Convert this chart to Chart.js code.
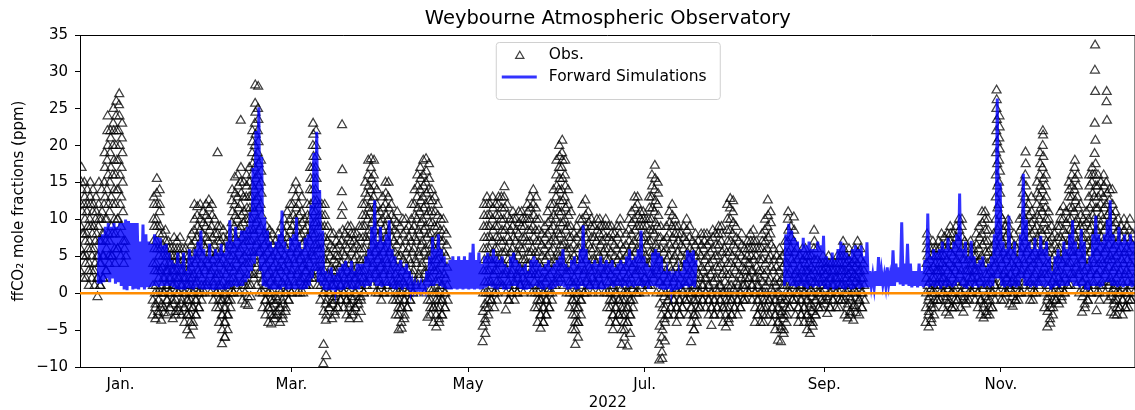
<!DOCTYPE html>
<html><head><meta charset="utf-8">
<script src="https://cdn.jsdelivr.net/npm/chart.js@4.4.1/dist/chart.umd.min.js"></script>
<style>html,body{margin:0;padding:0;overflow:hidden;background:#fff;width:1135px;height:410px}canvas{display:block}</style>
</head><body><canvas id="c" width="1142" height="410"></canvas>
<script>
const chartTitle = 'Weybourne Atmospheric Observatory';
const yLabel = 'ffCO\u2082 mole fractions (ppm)';
const xLabel = '2022';
const monthTickDays = [0, 59, 120, 181, 243, 304];
const monthTickLabels = ['Jan.', 'Mar.', 'May', 'Jul.', 'Sep.', 'Nov.'];
const xMin = -14, xMax = 350.5;
const yMin = -10, yMax = 35, yStep = 5;
const zeroLevel = 0;
const legendLabels = ['Obs.', 'Forward Simulations'];

// observations, one string per day (day 0 = 1 Jan 2022), starting obsStart
const obsStart = -14;
const obsDays = [
"3 5 6 8 9 11 12 14 15 17","2 4 5 7 8 10 12 13 15","2 3 5 6 8 9 11 12 14","1 3 4 6 7 9 10 12 13 15","2 3 5 6 8 9 11 12 14","1 2 4 5 7 8 10 11 13","-0.5 1 2 4 5 7 9 10 12 15","1 2 4 5 7 8 10 11 14","2 3 5 7 8 10 12 13 15 17 19","3 5 6 8 10 12 14 16 18 20 22 24",
"4 5 7 9 11 13 15 17 19 21 22","5 6 8 10 12 14 16 18 20 22 23 25","4 6 8 10 12 14 16 18 20 22 24 26","6 8 10 12 14 16 18 20 22 24 25.5 27","5 7 9 11 13 15 17 19 21 23","4 5 6 7","","","","",
"","","","","","-3 -2 -1 0 1 3 4 6 7 9 10 12 13","-3.5 -2.5 -1.5 0 1 3 4 6 7 9 10 12 13.5 15.5","-3 -2 -1 0 2 3 5 6 8 9 11 12 14","-3.7 -2.7 -1.5 0 1 2 3.5 5 6.5 8","-2 -1 0 1 2 3 4 5 6 7 8.5",
"-3 -2 -1 0 1 2 3 4 5 6 7","-2 -1 0 1 2 3 4 5 6","-3.5 -2.5 -1.5 0 1 2 3 4 5 6 7.5","-3 -2 -1 0 1 2 3 4 5 6 7","-2.5 -1.5 0 1 2 3 4 5 6 7.5","-3 -2 -1 0 1 2 3 4.5 6","-4 -3 -2 -1 0 1 2 3 4 5 6","-5 -4 -3 -2 -1 0 1 2 3 4 5 7","-5.7 -4.5 -3 -2 -1 0 1 2 3.5 5 6.5 8","-4 -3 -2 -1 0 1 2.5 4 5.5 7 8.5 10 12",
"-3 -2 -1 0 1.5 3 4.5 6 7.5 9 10.5 11.7","-2 -1 0 1 2.5 4 5.5 7 8.5 10 12","0 1 2 3.5 5 6.5 8 9.5 11","0 1.5 3 4.5 6 7.5 9 10.5 12","1 2.5 4 5.5 7 8.5 10 11.5 12.6","0 1.5 3 4.5 6 7.5 9 10.5 12","-1 0 1 2 3.5 5 6.5 8 10","-2 -1 0 1 2.5 4 5.5 7 8 9 19","-4 -3 -2 -1 0 1 2.5 4 5.5 7 9","-6.9 -6 -5 -4 -3 -2 -1 0 1.5 3 4.5 6 7.5 8.5",
"-6 -5 -4 -3 -2 -1 0 1 2.5 4 5.5 7","-3 -2 -1 0 1 2 3.5 5 6.5 8","-1 0 1 2 3.5 5 6.5 8 9.5 11 12.5 14","0 1.5 3 4.5 6 7.5 9 10.5 12 13.5 15.7","1 2.5 4 5.5 7 8.5 10 11.5 13 14.5 16","0 1.5 3 4.5 6 7.5 9 10.5 12 13.5 15 17 23.4","-1 0 1 2 3.5 5 6.5 8 9.5 11 13 15","-1.5 -0.5 1 2.5 4 5.5 7 8.5 10 11.5 13 14.5 16","-1.7 -0.5 1 2.5 4 5.5 7 8.5 10 11.5 13 15 17","1 2.5 4 5.5 7 8.5 10 11.5 13 14.5 16 17.5 19 20.5 22",
"2 3.5 5 6.5 8 9.5 11 12.5 14 15.5 17 18.5 20 21.5 23 24.5 25.7 28.2","1 2.5 4 5.5 7 8.5 10 11.5 13 14.5 16 17.5 19 20.5 22 23.5 25 28","0 1.5 3 4.5 6 7.5 9 10.5 12 13.5 15 16.5 18","-2 -1 0 1 2 3.5 5 6.5 8","-3 -2 -1 0 1 2.5 4 5.5 7 8 9","-4 -3 -2 -1 0 1.5 3 4.5 6 7 8.5","-4.2 -3 -2 -1 0 1 2 3.5 5 6.5 8","-3.5 -2.5 -1.5 -0.5 1 2.5 4 5.5 7","-3 -2 -1 0.5 2 3.5 5 6.5 8","-4 -3 -2 -1 0 1.5 3 4.5 6 7.5 9",
"-3.5 -2.5 -1.5 0 1 2 3.5 5 6.5 8 10","-2 -1 0 1.5 3 4.5 6 7.5 9 11","-1 0 1 2.5 4 5.5 7 8.5 10 12","0 1.5 3 4.5 6 7.5 9 10.5 12 14","1 2.5 4 5.5 7 8.5 10 11.5 13 15","0 1.5 3 4.5 6 7.5 9 10.5 12 14","0 1 2 3.5 5 6.5 8 9.5 11 13","0 1 2 3 4 5.5 7 8.5 10","1 2 3 4.5 6 7.5 9 10.5 12","1 2.5 4 5.5 7 8.5 10 12 14 15.5 17",
"2 3.5 5 6.5 8 9.5 11 12.5 14 15.5 17 18.5 20 21.5 23","2 3.5 5 6.5 8 9.5 11 12.5 14 15.5 17 18.5 20 22","1 2 3 4.5 6 7.5 9 10.5 12","-1 0 1 2 3 4.5 6 7.5 9 10.5 12","-9.6 -8.5 -7 -3.7 -2.5 -1.5 0 1.5 3 4.5 6 7.5 9 10.5 12","-3 -2 -1 0 1 2.5 4 5.5 7 9","-2 -1 0 1 2 3.5 5 6.5 8","-3.5 -2.5 -1.5 -0.5 1 2 3 4.5 6 8","-3 -2 -1 0 1 2 3 4 5 6 7","-2 -1 0 1 2 3.5 5 6.5 8",
"-1 0 1 2.5 4 5.5 7 8.5 10.5 11.7 13.7 16.7 22.8","-2 -1 0 1 2 3.5 5 6.5 8","-3 -2 -1 0 1 2 3 4.5 6 7.5 9","-3.5 -2.5 -1.5 -0.5 1 2.5 4 5.5 7 8 9","-3 -2 -1 0 1 2 3 4.5 6 7 8","-2 -1 0 1 2 3.5 5 6.5 8","-3.5 -2.5 -1.5 -0.5 1 2 3 4.5 6 7.5 9","-1 0 1 2 3 4.5 6 7.5 9 10.5 12","0 1.5 3 4.5 6 7.5 9 10.5 12 13.5 15","1 2.5 4 5.5 7 8.5 10 11.5 13 14.5 16 18",
"2 3.5 5 6.5 8 9.5 11 12.5 14 15.5 17 18.2","1 2.5 4 5.5 7 8.5 10 11.5 13 14.5 16 18","0 1.5 3 4.5 6 7.5 9 10.5 12 14","0 1 2 3.5 5 6.5 8 9.5 11","-1 0 1 2.5 4 5.5 7 8.5 10 11.5 13","0 1.5 3 4.5 6 7.5 9 10.5 12 13.5 15","1 2.5 4 5.5 7 8.5 10 11.5 13 15","0 1.5 3 4.5 6 7.5 9 10.5 12","-1 0 1 2.5 4 5.5 7 8.5 10","-3 -2 -1 0 1 2 3.5 5 6.5 8 9.5 11",
"-5 -4 -3 -2 -1 0 1 2 3.5 5 7 9","-4.8 -3.5 -2 -1 0 1.5 3 4.5 6 8 10","-3 -2 -1 0 1 2.5 4 5.5 7 8.5 10","-2 -1 0 1.5 3 4.5 6 7.5 9","-1 0 1 2.5 4 5.5 7 8.5 10 12","0 1.5 3 4.5 6 7.5 9 10.5 12 14","1 2.5 4 5.5 7 8.5 10 11.5 13 14.5 16","2 3.5 5 6.5 8 9.5 11 12.5 14 15.5 17","1 2.5 4 5.5 7 8.5 10 11.5 13 14.5 16 18","0 1.5 3 4.5 6 7.5 9 10.5 12 13.5 15 16.5 18.2",
"-3.3 -2 -1 0.5 2 3.5 5 6.5 8 9.5 11 12.5 14 15.5 17.5","-3 -2 -1 0.5 2 3.5 5 6.5 8 9.5 11 12.5 14","-4 -3 -2 -1 0 1.5 3 4.5 6 7.5 9 11 13","-4.6 -3.5 -2 -1 0 1.5 3 4.5 6 7.5 9 10.5 12","-4 -3 -2 -1 0 1 2.5 4 5.5 7 8.5 10","-3 -2 -1 0 1 2.5 4 5.5 7 8.5 10","-2 -1 0 1 2 3.5 5 6.5 8","","","",
"","","","","","","","","","-6.6 -5.5 -4.5 -3.5 -2.5 -1.5 0 1.5 3 4.5 6 7.5 9 10.5 12",
"-4 -3 -2 -1 0 1.5 3 4.5 6 7.5 9 10.5 12 13","-2 -1 0 1.5 3 4.5 6 7.5 9 10.5 12","-1 0 1 2.5 4 5.5 7 8.5 10 11.5 13","-2 -1 0 1.5 3 4.5 6 7.5 9 10.5 12","0 1.5 3 4.5 6 7.5 9 10.5 12 13","1 2.5 4 5.5 7 8.5 10 11.5 13","1 2.5 4 5.5 7 8.5 10 11.5 13 14.4","-2.3 -1 0 1.5 3 4.5 6 7.5 9 10.5 12","-1 0 1 2.5 4 5.5 7 8.5 10","0 1.5 3 4.5 6 7.5 9 10 11",
"-1 0 1 2.5 4 5.5 7 8.5 10","0 1 2 3.5 5 6.5 8 9.5 11","1 2 3 4.5 6 7.5 9 10 11","0 1.5 3 4.5 6 7.5 9 10","1 2.5 4 5.5 7 8.5 10 11 12","1 2.5 4 5.5 7 8.5 10 11.5 13","0 1.5 3 4.5 6 7.5 9 10.5 12 14","-2 -1 0 1 2.5 4 5.5 7 8.5 10 11.5 13","-4 -3 -2 -1 0 1 2.5 4 5.5 7 8.5 10","-4.8 -4 -3 -2 -1 0 1 2 3.5 5 6.5 8",
"-4 -3 -2 -1 0 1.5 3 4.5 6 7.5 9","-3 -2 -1 0.5 2 3.5 5 6.5 8 9.5 11","-2 -1 0 1 2.5 4 5.5 7 8.5 10 12","0 1.5 3 4.5 6 7.5 9 10.5 12 14","1 2.5 4 5.5 7 8.5 10 11.5 13 14.5 16 18","2 3.5 5 6.5 8 9.5 11 12.5 14 15.5 17 18.5 20","2 3.5 5 6.5 8 9.5 11 12.5 14 15.5 17 18 19 20.7","1 2.5 4 5.5 7 8.5 10 11.5 13 14.5 16 18","0 1.5 3 4.5 6 7.5 9 10.5 12 14","-2 -1 0 1.5 3 4.5 6 7.5 9 11",
"-5 -4 -3 -2 -1 0 1 2 3.5 5 6.5 8","-7 -6 -5 -4 -3 -2 -1 0 1.5 3 4.5 6 7.5 9","-4 -3 -2 -1 0 1.5 3 4.5 6 8 10","-1 0 1 2.5 4 5.5 7 8.5 10 12","0 1.5 3 4.5 6 7.5 9 10.5 12.6","0 1 2 3.5 5 6.5 8 9.5 11","1 2 3 4.5 6 7.5 9 10","0 1.5 3 4.5 6 7.5 9","1 2.5 4 5.5 7 8.5 10","0 1 2 3.5 5 6.5 8 9 10",
"1 2.5 4 5.5 7 8 9","0 1.5 3 4.5 6 7.5 9 10","-2 -1 0 1.5 3 4.5 6 7.5 9","-4 -3 -2 -1 0 1 2.5 4 5.5 7 8 9","-5 -4 -3 -2 -1 0 1 2 3.5 5 6.5 8","-4 -3 -2 -1 0 1.5 3 4.5 6 7.5 9","-3 -2 -1 0.5 2 3.5 5 6.5 8 9 10","-7 -6 -5 -4 -3 -2 -1 0 1.5 3 4.5 6","-5 -4 -3 -2 -1 0 1 2 3.5 5 6.5 8","-7.2 -5.5 -4 -3 -2 -1 0 1 2.5 4 5.5 7 8.5 10",
"-3 -2 -1 0.5 2 3.5 5 6.5 8 9.5 11","-1 0 1 2.5 4 5.5 7 8.5 10 11.5 13","0 1.5 3 4.5 6 7.5 9 10.5 12 13","0 1.5 3 4.5 6 7.5 9 10 11","1 2 3 4.5 6 7.5 9 10 11","0 1 2 3.5 5 6.5 8 9 10","1 2.5 4 5.5 7 8.5 10 11.5 13","1 2.5 4 5.5 7 8.5 10 11.5 13 14.5 16","2 3.5 5 6.5 8 9.5 11 12.5 14 15.5 17.3","0 1.5 3 4.5 6 7.5 9 10.5 12 13.5 15",
"-9.1 -8 -7 -6 -4.5 -3 -1.5 0 1.5 3 4.5 6 7.5 9","-8.9 -6.5 -5 -3.5 -2 -0.5 1 2.5 4 5.5 7","-4 -3 -2 -1 0 1.5 3 4.5 6 7.5 9","-3 -2 -1 0.5 2 3.5 5 6.5 8 9.5 11","-2 -1 0 1.5 3 4.5 6 7.5 9 10.5 12","-3 -2 -1 0.5 2 3.5 5 6.5 8 9 10","-4 -3 -2 -1 0 1 2.5 4 5.5 7 8 9","-3 -2 -1 0.5 2 3.5 5 6.5 8","-2 -1 0 1.5 3 4.5 6 7.5 9","-1 0 1 2.5 4 5.5 7 8.5 10",
"-3 -2 -1 0 1.5 3 4.5 6 7.5 9","-6.6 -5 -4 -3 -2 -1 0 1 2.5 4 5.5 7","-5 -4 -3 -2 -1 0 1 2 3.5 5 6.5 8","-3 -2 -1 0 1 2.5 4 5.5 7","-2 -1 0 1 2 3.5 5 6.5 8","-1 0 1 2 3 4.5 6 7 8","-2 -1 0 1 2 3.5 5 6.5 8","-3 -2 -1 0 1 2.5 4 5.5 7","-4.4 -3 -2 -1 0 1.5 3 4.5 6 7.5 8.5","-3 -2 -1 0.5 2 3.5 5 6.5 8",
"-2 -1 0 1 2 3.5 5 6.5 8 9","-3 -2 -1 0 1 2.5 4 5.5 7 8 9","-4 -3 -2 -1 0 1.5 3 4.5 6","-4.6 -3.5 -2 -1 0 1 2.5 4 5.5 7 8.5 10 12","-4 -3 -2 -1 0 1 2.5 4 5.5 7 8.5 10 11.5 12.8","-3 -2 -1 0.5 2 3.5 5 6.5 8 9.5 11 12.5","-2 -1 0 1.5 3 4.5 6 7.5 9","-3 -2 -1 0 1 2.5 4 5.5 7","-2 -1 0 1 2 3.5 5 6.5 8","-1 0 1 2 3 4.5 6",
"-1 0 1 2 3 4 5 6 7","0 1 2 3 4 5 6 7 8","-1 0 1 2 3 4.5 6 7 8.5","-4 -3 -2 -1 0 1 2 3.5 5 6 7","-3 -2 -1 0 1 2 3 4.5 6","-4 -3 -2 -1 0 1.5 3 4.5 6 7 8","-4 -3 -2 -1 0 1 2.5 4 5.5 7 8.5 10","-2 -1 0 1.5 3 4.5 6 7.5 9 10.5 12.6","-3 -2 -1 0.5 2 3.5 5 6.5 8 9.5 11","-4 -3 -2 -1 0 1.5 3 4.5 6",
"-5 -4 -3 -2 -1 0 1 2 3.5 5","-6.4 -5 -4 -3 -2 -1 0 1.5 3 4.5 6","-6.6 -5.5 -4.5 -3.5 -2.5 -1.5 -0.5 1 2 3.5 5","-5 -4 -3 -2 -1 0 1 2.5 4 5.5 7","-3 -2 -1 0 1 2.5 4 5.5 7 8.5 10 11","-2 -1 0 1.5 3 4.5 6 7.5 9","-1 0 1 2.5 4 5.5 7 8.5 10.3","-3 -2 -1 0 1 2 3 4.5 6","-4 -3 -2 -1 0 1 2 3.5 5","-3 -2 -1 0 1 2 3 4.5 6",
"-4 -3 -2 -1 0 1 2 3 4 5 6","-5 -4 -3 -2 -1 0 1 2 3 4 5","-5.5 -4.5 -3.5 -2.5 -1.5 -0.5 0.5 1.5 2.5 3.5 5","-4 -3 -2 -1 0 1.5 3 4.5 6 7 8.5","-3 -2 -1 0 1 2 3 4.5 6","-2 -1 0 1 2 3 4","-2 -1 0 1 2 3 4 5","-1.5 -0.5 0.5 1.5 2.5 3.5 4","-2.8 -2 -1 0 1 2 3 4 5","-2 -1 0 1 2 3 4",
"-1 0 1 2 3 4","-2 -1 0 1 2 3 4 5","-2 -1 0 1 2 3 4 5","-1 0 1 2 3 4 5 6 7","-3 -2 -1 0 1 2 3 4 5","-3.4 -2.5 -1.5 -0.5 0.5 1.5 2.5 3.5 4.5 6","-3 -2 -1 0 1 2 3 4 5","-3.7 -2.7 -1.7 -0.7 0.5 1.5 2.5 3.5 4.5 6","-2 -1 0 1 2 3 4 5.5 7","-3 -2 -1 0 1 2 3 4.5 6",
"-2 -1 0 1 2 3 4","","","","","","","","","",
"","","","","","","","","","",
"","","-4 -3 -2 -1 0 1 2 3 4 5 6 7 8","-4.6 -3.5 -2.5 -1.5 -0.5 0.5 1.5 3 4.5 6","-4 -3 -2 -1 0 1 2 3.5 5 6 7","-2 -1 0 1 2 3 4 5 6","-1 0 1 2 3 4 5 6 7","-1 0 1 2 3 4 5 6.5 8","-2 -1 0 1 2 3.5 5 6 7.6","-2.6 -1.5 -0.5 0.5 1.5 3 4.5 6 7 8",
"-3 -2 -1 0 1 2.5 4 5.5 7 8 9","-2 -1 0 1 2 3.5 5 6.5 8","-2 -1 0 1.5 3 4.5 6 7.5 9","-1 0 1 2.5 4 5.5 7 8.5 10","-2 -1 0 1.5 3 4.5 6 7.5 9 10","-2.6 -1.5 -0.5 0.5 1.5 3 4.5 6 7","-1 0 1 2 3 4.5 6","-1 0 1 2 3 4 5 6 7","0 1 2 3 4 5 6","-1 0 1 2 3 4 5 6.5 8",
"-2 -1 0 1.5 3 4.5 6 7.5 9","-3 -2 -1 0.5 2 3.5 5 6.5 8 9.5 11","-3.4 -2.5 -1.5 -0.5 1 2.5 4 5.5 7 8.5 10 11","-3 -2 -1 0 1 2.5 4 5.5 7 8.5 10","-3 -2 -1 0 1 2 3 4.5 6","-2 -1 0 1 2 3.5 5 6.5 8","1 2.5 4 5.5 7 8.5 10 11.5 13 14.5 16 17.5 19 20.5 22 23.5 25 26.2 27.5","0 1.5 3 4.5 6 7.5 9 10.5 12 13.5 15 16.5 18 19.5 21 22.5 24","-1 0 1 2.5 4 5.5 7 8.5 10","-1 0 1 2 3 4.5 6 7.5 9",
"0 1 2 3.5 5 6.5 8 9 9.9","-1.5 -0.5 0.5 1.5 2.5 4 5.5 7","-1.8 -1 0 1 2 3.5 5 6.5 8","-1 0 1 2 3 4.5 6","-1 0 1 2.5 4 5.5 7 8.5 10","0 1.5 3 4.5 6 7.5 9 10.5 12 13.5 15","1 2.5 4 5.5 7 8.5 10 11.5 13 14.5 16 17.5 19.1","0 1.5 3 4.5 6 7.5 9 10.5 12","-1 0 1 2 3.5 5 6.5 8 9.5 11 13","-1 0 1 2.5 4 5.5 7 8.5 10",
"0 1.5 3 4.5 6 7.5 9 10.5 12 13.5 15","1 2.5 4 5.5 7 8.5 10 11.5 13 14.5 16 17.5 19","2 3.5 5 6.5 8 9.5 11 12.5 14 15.5 17 18.5 20 21.4 22","-2 -1 0 1 2.5 4 5.5 7 8.5 10 11.5 13 14.5 16","-4.6 -3.5 -2.5 -1.5 -0.5 1 2.5 4 5.5 7 8.5 10 11","-4.1 -3 -2 -1 0 1.5 3 4.5 6 7.5 9","-2 -1 0 1 2 3.5 5 6.5 8","-1 0 1 2 3 4.5 6 7.5 9","-1.5 -0.5 0.5 1.5 3 4.5 6 7.5 9 10 11","-1 0 1 2.5 4 5.5 7 8.5 10 11.7",
"0 1 2 3.5 5 6.5 8 9.5 11","1 2.5 4 5.5 7 8.5 10 11.5 13 14 15","1 2.5 4 5.5 7 8.5 10 11.5 13 14.5 16","2 3.5 5 6.5 8 9.5 11 12.5 14 15.5 17 18","1 2.5 4 5.5 7 8.5 10 11.5 13 14.5 16","0 1.5 3 4.5 6 7.5 9 10.5 12","-2.6 -1.5 -0.5 0.5 1.5 3 4.5 6 7.5 9 10","-2 -1 0 1 2 3.5 5 6.5 8 9.5 11","-1 0 1 2.5 4 5.5 7 8.5 10 11.5 13 14.5 16","0 1.5 3 4.5 6 7.5 9 10.5 12 13.5 15 16 17",
"1 2.5 4 5.5 7 8.5 10 11.5 13 14.5 16 17.5 18.9 20.7 23 27.3 30.2 33.6","-2.4 -1 0 1 2.5 4 5.5 7 8.5 10 11.5 13 14.5 16","0 1.5 3 4.5 6 7.5 9 10.5 12 13.5 15","1 2.5 4 5.5 7 8.5 10 11.5 13 14.5 16","0 1.5 3 4.5 6 7.5 9 10.5 12 13.5 15 23.4 25.9 27.3","-1 0 1 2 3.5 5 6.5 8 9.5 11 12.5 14","-2.6 -1.5 -0.5 0.5 1.5 3 4.5 6 7.5 9 10.5 12 14","-3 -2 -1 0 1 2 3.5 5 6.5 8 9.5 11","-3 -2 -1 0 1 2.5 4 5.5 7 8.5 10","-2 -1 0 1.5 3 4.5 6 7.5 9",
"-3 -2 -1 0 1 2.5 4 5.5 7 8.5 10","-2 -1 0 1.5 3 4.5 6 7.5 9","-2 -1 0 1 2.5 4 5.5 7 8.5 10","-1 0 1 2 3.5 5 6.5 8"
];

// forward simulation: daily low / high, starting simStart (null = no simulation)
const simStart = -8;
const simLo = [
1.3,1.3,1.5,2,1.5,2,1.3,1.5,1,0.5, 0.4,1,0.5,0.6,0.5,0.8,0.5,0.8,0.8,1,
1,0.8,1,1,1,1,0.8,0.6,0.5,0.5, 0.5,0.7,0.6,0.5,0.8,0.6,0.5,0.5,0.5,0.5,
0.4,0.5,0.5,0.5,0.5,0.6,0.8,1,0.8,1, 1,1.5,2,3,4,5,3,1,0.8,0.6,
0.5,0.5,0.5,0.5,0.8,0.5,0.5,0.6,0.5,0.6, 0.5,0.5,0.6,1,2,3,1.5,1,0.5,0.4,
0.5,0.4,0.5,0.5,0.4,0.5,0.8,0.6,0.5,0.6, 0.5,1,0.8,1,1,1.5,1,1,0.8,1,
1,0.8,0.6,0.5,0.8,0.5,0.8,0.5,0.4,0.4, 0.4,0.4,0.4,0.5,0.8,1,1,1.3,1,0.8,
0.6,0.5,0.5,0.6,0.5,0.6,0.5,0.6,0.5,0.6, 0.5,0.6,0.5,0.6,0.8,1,0.8,0.6,0.5,0.8,
0.5,0.5,0.6,1,1,0.8,0.6,0.5,0.5,0.6, 0.8,1,0.8,0.6,0.5,0.8,0.5,0.6,0.8,1,
1,0.8,0.5,0.6,0.8,0.5,0.6,1,0.8,0.6, 0.5,0.6,0.5,0.6,0.5,0.6,0.8,1,0.8,1,
1,0.8,1,0.8,1,0.8,1,1,0.8,1, 0.6,1,1,0.8,0.6,0.5,0.5,0.6,0.5,0.4,
0.5,0.6,0.8,1,0.8,1,0.8,
null,null,null,null,null,null,null,null,null,null,null,null,null,null,null,
null,null,null,null,null,null,null,null,null,null,null,null,null,null,null,
1,1.5,1,1,0.8,1,1,0.8,0.6,1, 0.8,1,0.8,1,0.6,0.5,0.8,0.5,0.6,0.8,
0.6,0.5,0.8,0.5,0.6,0.8,0.6,0.8,0.8,0.8, 1,0.8,1,1,1.2,1,1.2,1,1,1.5,
1.2,1,1.2,1,0.8,1,0.8,1,0.8,1, 0.8,1,0.8,1,0.6,1,0.8,1,0.8,1,
1.5,1,0.8,0.6,1,0.8,1,0.8,1,0.8, 1,0.8,1,2,2,1,0.8,1,0.8,1,
0.8,1,2,1,1,0.8,1,0.8,1,1, 0.8,1,0.5,0.8,1,0.8,1,1,1,1.5,
1,1,0.8,1,0.5,0.4,1,1,1,0.8, 1,1.5,1.5,1,1,0.8,1,0.8,1, 1,0.8,1
];
const simHi = [
7.6,8,9,9.5,9,9.5,9,9.5,9.5,10, 9.8,9.5,9.5,9.5,7,9.3,8,7,6.7,8,
7.6,7.5,6.5,6.7,5.5,4.5,4,5.5,4,5.5, 3,6,5,6,7,8.5,6,5,6.7,5,
6,5.5,6.7,5.5,7,9.9,7,9,7.5,8.5, 8.5,9,11,17,22,25.2,18.5,10.3,8.5,7,
6.2,7,8,11.2,7,6,7.5,8,10.3,7, 6,7.5,8,12,19,21.9,14,8.5,3,2,
3.5,2.5,2,3.5,4,4.4,3.5,4.4,3,4, 4,4,5,6,9,12.6,7,9,7,8,
9.9,6,5,4,4.5,3.5,4,3,1.5,1.3, 1.2,1.3,1.2,3,5,7.6,6,8,6,5,
4,4.5,5,4.5,5,4.5,5,4.5,5.5,6.7, 4.5,5.5,4,5,5.5,5,6,5,4.5,5,
4,3.5,5,5.5,4.5,4,3.5,4,3,4.5, 5,4.5,4,3.5,4,4.5,3.5,4,4.5,5,
6,4,3.5,4.5,5,4,6,9.2,6,4.5, 4,4.5,4,5,4,4.5,4,4.5,3.5,4,
4.5,4,5,6,4.5,5,6,8.5,5,4, 3.5,5.5,6,5.5,5,3,2.5,3,2,3,
2.5,3,4.5,5.8,5.5,5.8,4.5,
null,null,null,null,null,null,null,null,null,null,null,null,null,null,null,
null,null,null,null,null,null,null,null,null,null,null,null,null,null,null,
8,9.4,8.5,7.5,7,6,7.5,6.5,7,6, 6,7,6.5,7.8,5,4.5,5.5,4.5,6,7,
6.5,5.5,5,6,6.5,6,6.5,5,6.9,3, 2.5,3,4.9,3,2.5,3.5,2.5,5.8,4,3.5,
9.6,4,6.7,4,3,3,4,3,4.5,10.8, 5,6,5.5,6,7,6,7.5,6,7,8,
13.5,6,7,5,7.1,5,4,4.5,5,3.5, 4,5,8,26.4,15,7,6,10.5,6,7,
5,8,16.2,10,7,6,7.5,6,7.8,6, 7,5,3,5,6,5,7,6,8,9.9,
7,6,8.7,7,4,5,8,10.5,8,7, 8,10,12.6,8,7,9,7,8,7, 8,7,9
];

// ---- build points from the arrays ----
const obsPts = [];
obsDays.forEach((s, i) => {
  if (!s) return;
  const v = s.split(' ').map(Number).sort((a, b) => a - b);
  const n = v.length, left = [], right = [];
  v.forEach((y, k) => (k % 2 === 0 ? left : right).push(y));
  const ordered = left.concat(right.reverse());
  ordered.forEach((y, k) => obsPts.push({x: obsStart + i + (k + 0.5) / n, y}));
});
const simPts = [];
simLo.forEach((lo, i) => {
  const d = simStart + i;
  if (lo === null) { simPts.push({x: d + 0.5, y: null}); return; }
  simPts.push({x: d + 0.25, y: lo}, {x: d + 0.75, y: simHi[i]});
});
const zeroPts = [{x: xMin, y: zeroLevel}, {x: xMax, y: zeroLevel}];

const FONT = 'DejaVu Sans';
Chart.defaults.font.family = FONT;
Chart.defaults.color = '#000';
const simColor = 'rgba(0,0,255,0.8)';
const obsColor = 'rgba(0,0,0,0.75)';

const framePlugin = {
  id: 'frame',
  afterDraw(chart) {
    const {ctx, chartArea: a} = chart;
    const cx = (a.left + a.right) / 2;
    ctx.save();
    ctx.strokeStyle = '#000'; ctx.lineWidth = 1;
    ctx.beginPath();
    ctx.moveTo(a.left, a.top + 0.5); ctx.lineTo(a.right, a.top + 0.5);
    ctx.moveTo(a.right - 0.5, a.top); ctx.lineTo(a.right - 0.5, a.bottom);
    ctx.stroke();
    // title centred over the axes
    ctx.fillStyle = '#000';
    ctx.font = '19.5px "' + FONT + '"';
    ctx.textAlign = 'center'; ctx.textBaseline = 'middle';
    ctx.fillText(chartTitle, cx, a.top - 16);
    // legend
    const w = 224, h = 57;
    const x0 = cx - w / 2, y0 = a.top + 7;
    ctx.beginPath();
    ctx.roundRect(x0 + 0.5, y0 + 0.5, w, h, 3);
    ctx.fillStyle = 'rgba(255,255,255,0.8)'; ctx.fill();
    ctx.strokeStyle = '#d0d0d0'; ctx.stroke();
    const tx = x0 + 24, ty = y0 + 14, r = 4.8;
    ctx.beginPath();
    ctx.moveTo(tx, ty - r);
    ctx.lineTo(tx + r * Math.sin(Math.PI / 3), ty + r * 0.5);
    ctx.lineTo(tx - r * Math.sin(Math.PI / 3), ty + r * 0.5);
    ctx.closePath();
    ctx.strokeStyle = obsColor; ctx.lineWidth = 1.2; ctx.stroke();
    ctx.beginPath();
    ctx.moveTo(x0 + 6, y0 + 35); ctx.lineTo(x0 + 41, y0 + 35);
    ctx.strokeStyle = simColor; ctx.lineWidth = 3; ctx.stroke();
    ctx.fillStyle = '#000';
    ctx.font = '15.5px "' + FONT + '"';
    ctx.textBaseline = 'middle'; ctx.textAlign = 'left';
    ctx.fillText(legendLabels[0], x0 + 53, y0 + 13);
    ctx.fillText(legendLabels[1], x0 + 53, y0 + 35);
    ctx.restore();
  }
};

const tickFont = {family: FONT, size: 15};
new Chart(document.getElementById('c'), {
  type: 'scatter',
  data: {datasets: [
    {label: legendLabels[1], data: simPts, showLine: true, borderColor: simColor, borderWidth: 3,
     pointRadius: 0, spanGaps: false, order: 1},
    {label: legendLabels[0], data: obsPts, pointStyle: 'triangle', pointRadius: 5.2,
     borderColor: obsColor, backgroundColor: 'rgba(0,0,0,0)', borderWidth: 1.25, order: 2},
    {label: 'zero', data: zeroPts, showLine: true, borderColor: '#ff8c00', borderWidth: 2.5,
     pointRadius: 0, order: 0}
  ]},
  options: {
    responsive: false, animation: false, devicePixelRatio: 1, events: [],
    layout: {padding: {top: 35, left: 0, right: 0, bottom: 0}},
    plugins: {legend: {display: false}, tooltip: {enabled: false}, title: {display: false}},
    scales: {
      x: {
        type: 'linear', min: xMin, max: xMax,
        afterBuildTicks: s => { s.ticks = monthTickDays.map(v => ({value: v})); },
        afterFit: s => { s.height = 43; },
        ticks: {font: tickFont, color: '#000', padding: 4, maxRotation: 0, autoSkip: false,
                callback: v => monthTickLabels[monthTickDays.indexOf(v)]},
        grid: {display: true, drawOnChartArea: false, drawTicks: true, tickLength: 5, color: '#000'},
        border: {display: true, color: '#000', width: 1},
        title: {display: true, text: xLabel, color: '#000', font: {family: FONT, size: 15, lineHeight: 0.9},
                padding: {top: 0, bottom: 0}}
      },
      y: {
        min: yMin, max: yMax,
        afterFit: s => { s.width = 80; },
        ticks: {stepSize: yStep, font: tickFont, color: '#000', padding: 7,
                callback: v => (v < 0 ? '\u2212' + Math.abs(v) : String(v))},
        grid: {display: true, drawOnChartArea: false, drawTicks: true, tickLength: 5, color: '#000'},
        border: {display: true, color: '#000', width: 1},
        title: {display: true, text: yLabel, color: '#000', font: tickFont, padding: {top: 10, bottom: 0}}
      }
    }
  },
  plugins: [framePlugin]
});
</script></body></html>
